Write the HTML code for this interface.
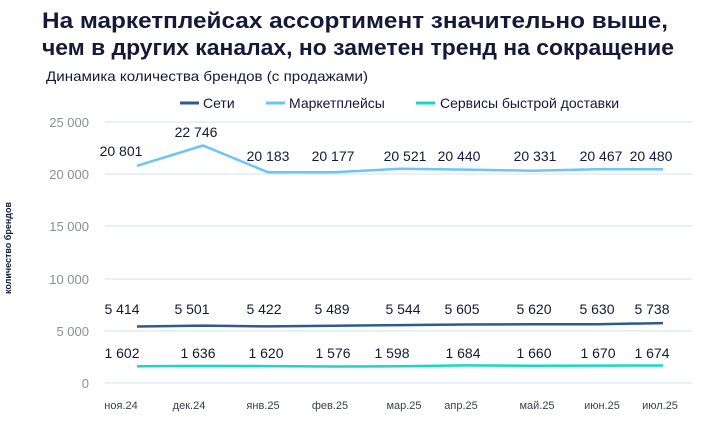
<!DOCTYPE html>
<html><head><meta charset="utf-8"><style>
body{margin:0;background:#fff;width:728px;height:442px;overflow:hidden;font-family:"Liberation Sans",sans-serif}
</style></head><body>
<svg width="728" height="442" xmlns="http://www.w3.org/2000/svg" font-family="Liberation Sans, sans-serif">
<text x="42" y="28" font-size="22" font-weight="bold" fill="#14193a" textLength="626" lengthAdjust="spacingAndGlyphs">На маркетплейсах ассортимент значительно выше,</text>
<text x="42" y="55" font-size="22" font-weight="bold" fill="#14193a" textLength="632" lengthAdjust="spacingAndGlyphs">чем в других каналах, но заметен тренд на сокращение</text>
<text x="46" y="81" font-size="14" fill="#14193a" textLength="322" lengthAdjust="spacingAndGlyphs">Динамика количества брендов (с продажами)</text>
<g font-size="14" fill="#14193a">
<line x1="180" y1="103" x2="199" y2="103" stroke="#2f5a8c" stroke-width="3"/><text x="203" y="108">Сети</text>
<line x1="266" y1="103" x2="285" y2="103" stroke="#6cc4f7" stroke-width="3"/><text x="289" y="108">Маркетплейсы</text>
<line x1="416" y1="103" x2="435" y2="103" stroke="#1bd6c4" stroke-width="3"/><text x="440" y="108">Сервисы быстрой доставки</text>
</g>
<g stroke="#dce6f4" stroke-width="1.2">
<line x1="105" y1="122" x2="692" y2="122"/><line x1="105" y1="174" x2="692" y2="174"/><line x1="105" y1="226" x2="692" y2="226"/><line x1="105" y1="279" x2="692" y2="279"/><line x1="105" y1="331" x2="692" y2="331"/><line x1="105" y1="383" x2="692" y2="383"/>
</g>
<g font-size="13" fill="#8a8f99" text-anchor="end">
<text x="89" y="127">25 000</text><text x="89" y="179">20 000</text><text x="89" y="231">15 000</text><text x="89" y="284">10 000</text><text x="89" y="336">5 000</text><text x="89" y="388">0</text>
</g>
<text transform="translate(11,248) rotate(-90)" font-size="9" font-weight="bold" fill="#14193a" text-anchor="middle">количество брендов</text>
<polyline fill="none" stroke="#6cc4f7" stroke-width="2.5" points="137,165.8 203,145.5 268,172.3 334,172.3 400,168.8 466,169.6 532,170.7 597,169.3 663,169.2"/>
<polyline fill="none" stroke="#2f5a8c" stroke-width="2.5" points="137,326.5 203,325.6 268,326.4 334,325.7 400,325.1 466,324.5 532,324.3 597,324.2 663,323.1"/>
<polyline fill="none" stroke="#1bd6c4" stroke-width="2.5" points="137,366.3 203,365.9 268,366.1 334,366.5 400,366.3 466,365.4 532,365.7 597,365.6 663,365.5"/>
<g font-size="14" fill="#14193a" text-anchor="middle">
<text x="121" y="156">20 801</text><text x="196" y="137">22 746</text><text x="268" y="161">20 183</text><text x="333" y="161">20 177</text><text x="405" y="161">20 521</text><text x="459" y="161">20 440</text><text x="535" y="161">20 331</text><text x="601" y="161">20 467</text><text x="651" y="161">20 480</text>
<text x="122" y="314">5 414</text><text x="192" y="314">5 501</text><text x="264" y="314">5 422</text><text x="332" y="314">5 489</text><text x="403" y="314">5 544</text><text x="462" y="314">5 605</text><text x="534" y="314">5 620</text><text x="597" y="314">5 630</text><text x="652" y="314">5 738</text>
<text x="122" y="358">1 602</text><text x="198" y="358">1 636</text><text x="266" y="358">1 620</text><text x="333" y="358">1 576</text><text x="392" y="358">1 598</text><text x="463" y="358">1 684</text><text x="534" y="358">1 660</text><text x="598" y="358">1 670</text><text x="652" y="358">1 674</text>
</g>
<g font-size="11" fill="#3a3f4a" text-anchor="middle">
<text x="121" y="409">ноя.24</text><text x="189" y="409">дек.24</text><text x="263" y="409">янв.25</text><text x="330" y="409">фев.25</text><text x="404" y="409">мар.25</text><text x="461" y="409">апр.25</text><text x="537" y="409">май.25</text><text x="602" y="409">июн.25</text><text x="660" y="409">июл.25</text>
</g>
</svg>
</body></html>
